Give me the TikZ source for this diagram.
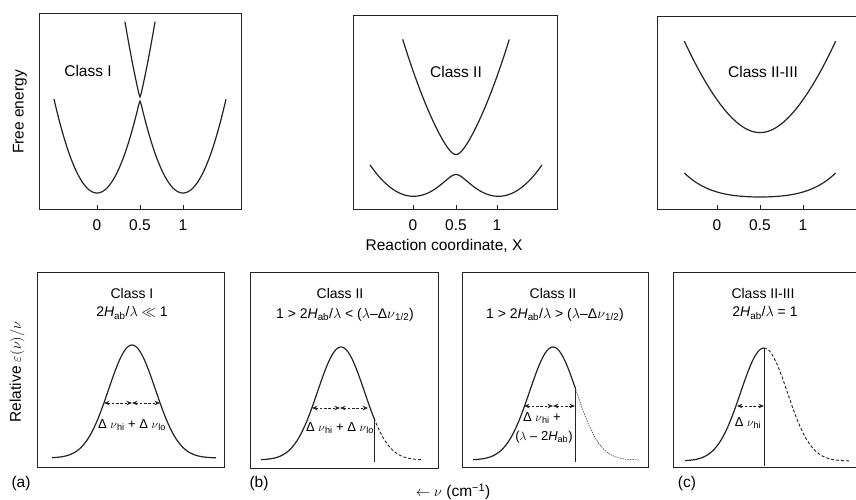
\documentclass[tikz,border=0pt]{standalone}
\usepackage{fontspec}
\setmainfont{Liberation Sans}
\usepackage{tikz}
\usetikzlibrary{arrows.meta}
\definecolor{ink}{RGB}{35,35,35}

\begin{document}
\begin{tikzpicture}[x=1pt, y=-1pt, font=\fontsize{15.5}{18}\selectfont,
    declare function={
      elo(\t,\h)=(\t*\t+(\t-1)*(\t-1))/2-sqrt(((2*\t-1)/2)^2+\h*\h);
      ehi(\t,\h)=(\t*\t+(\t-1)*(\t-1))/2+sqrt(((2*\t-1)/2)^2+\h*\h);
      flat(\u)=14.8*\u*\u+21*\u*\u*\u*\u;
      gs(\d)=exp(-\d*\d/1095);},
    frame/.style={draw=ink, line width=0.9pt},
    curve/.style={ink, line width=1.2pt},
    tail/.style={ink, line width=0.9pt, dash pattern=on 3pt off 2pt},
    fine/.style={ink, line width=0.5pt, dash pattern=on 1.5pt off 1pt},
    width/.style={ink, line width=0.7pt, dash pattern=on 2.5pt off 1.8pt,
      {Stealth[length=5.5pt,width=4.5pt,sep=0pt]}-{Stealth[length=5.5pt,width=4.5pt,sep=0pt]}},
    lbl/.style={font=\fontsize{14}{16}\selectfont, inner sep=0pt, align=center},
    small/.style={font=\fontsize{13}{15}\selectfont, inner sep=0pt, align=center}]
  \useasboundingbox (0,0) rectangle (856,500);

  % free energy surfaces
  \draw[frame] (39,13) rectangle (241,209);
  \draw[frame] (353,15) rectangle (557,209);
  \draw[frame] (657,16) rectangle (872,209);
  \foreach \x/\v/\n in {97/0/a0,140/0.5/a1,183/1/a2,413/0/b0,456/0.5/b1,497/1/b2,717/0/c0,760/0.5/c1,803/1/c2} {
    \draw[frame] (\x,209) -- ++(0,-4);
    \node (tick-\n) at (\x,225) {\v};
  }
  \node[rotate=90] (fe) at (20,112) {Free energy};
  \node (rc) at (444,246) {Reaction coordinate, X};
  \node (topI) at (88,71) {Class I};
  \node (topII) at (456,72) {Class II};
  \node (topIII) at (763,72) {Class II-III};

  \draw[curve] plot[domain=-0.5:1.5, samples=161] ({97+86*\x}, {193-376*elo(\x,0.0066)});
  \draw[curve] plot[domain=0.325:0.675, samples=29] ({97+86*\x}, {193-376*ehi(\x,0.0066)});
  \draw[curve] plot[domain=-0.5:1.5, samples=81] ({413+86*\x}, {195.5-124*elo(\x,0.0806)});
  \draw[curve] plot[domain=-0.12:1.12, samples=63] ({413+86*\x}, {195.5-124*ehi(\x,0.0806)});
  \draw[curve] plot[domain=-0.88:0.88, samples=61] ({760+86*\x}, {197-flat(\x)});
  \draw[curve] plot[domain=-0.38:1.38, samples=61] ({717+86*\x}, {182.3-70*ehi(\x,0.46)});

  % absorption bands
  \draw[frame] (37,272) rectangle (224,467);
  \draw[frame] (250,272) rectangle (438,468);
  \draw[frame] (462,272) rectangle (648,467);
  \draw[frame] (673,272) rectangle (872,467);
  \node[rotate=90] (eps) at (17,372) {Relative $\varepsilon(\nu)/\nu$};
  \node (nu) at (453,492) {$\leftarrow\nu$ (cm\textsuperscript{−1})};
  \node (pa) at (21,483) {(a)};
  \node (pb) at (259,483) {(b)};
  \node (pc) at (687,483) {(c)};

  % (a)
  \node[lbl] (clsA) at (132,293) {Class I};
  \node[lbl] (condA) at (132,313) {2\textit{H}\textsubscript{ab}/$\lambda$ $\ll$ 1};
  \draw[curve] plot[domain=-80:84, samples=83] ({132+\x}, {458-113*gs(\x)});
  \coordinate (a-l) at (104,403); \coordinate (a-m) at (132,403); \coordinate (a-r) at (160,403);
  \draw[width] (a-l) -- (a-m); \draw[width] (a-m) -- (a-r);
  \node[small] (wA) at (132,425) {Δ $\nu$\textsubscript{hi} + Δ $\nu$\textsubscript{lo}};

  % (b)
  \node[lbl] (clsB) at (340,293) {Class II};
  \node[lbl] (condB) at (345,315) {1 > 2\textit{H}\textsubscript{ab}/$\lambda$ < ($\lambda$–Δ$\nu$\textsubscript{1/2})};
  \draw[curve] plot[domain=-80:33, samples=58] ({341+\x}, {460-113*gs(\x)});
  \draw[tail] plot[domain=33:82, samples=26] ({341+\x}, {460-113*gs(\x)});
  \coordinate (b-top) at (374,{460-113*gs(33)}); \coordinate (b-bot) at (374,462);
  \draw[curve, line width=1pt] (b-top) -- (b-bot);
  \coordinate (b-l) at (312,408); \coordinate (b-m) at (340,408); \coordinate (b-r) at (368,408);
  \draw[width] (b-l) -- (b-m); \draw[width] (b-m) -- (b-r);
  \node[small] (wB) at (340,428) {Δ $\nu$\textsubscript{hi} + Δ $\nu$\textsubscript{lo}};

  % (b), second case
  \node[lbl] (clsB2) at (553,293) {Class II};
  \node[lbl] (condB2) at (555,315) {1 > 2\textit{H}\textsubscript{ab}/$\lambda$ > ($\lambda$–Δ$\nu$\textsubscript{1/2})};
  \draw[curve] plot[domain=-80:22, samples=52] ({553+\x}, {460-113*gs(\x)});
  \draw[fine] plot[domain=22:87, samples=34] ({553+\x}, {460-113*gs(\x)});
  \coordinate (c-top) at (575,{460-113*gs(22)}); \coordinate (c-bot) at (575,462);
  \draw[curve, line width=1pt] (c-top) -- (c-bot);
  \coordinate (c-l) at (524,406); \coordinate (c-m) at (553,406); \coordinate (c-r) at (575,406);
  \draw[width] (c-l) -- (c-m); \draw[width] (c-m) -- (c-r);
  \node[small] (wB2) at (542,418) {Δ $\nu$\textsubscript{hi} +};
  \node[small] (wB3) at (544,437) {($\lambda$ – 2\textit{H}\textsubscript{ab})};

  % (c)
  \node[lbl] (clsC) at (763,293) {Class II-III};
  \node[lbl] (condC) at (765,313) {2\textit{H}\textsubscript{ab}/$\lambda$ = 1};
  \draw[curve] plot[domain=-79:0, samples=41] ({764+\x}, {461-113*gs(\x)});
  \draw[tail] plot[domain=0:85, samples=44] ({764+\x}, {461-113*gs(\x)});
  \coordinate (d-top) at (764,348); \coordinate (d-bot) at (764,466);
  \draw[curve, line width=1pt] (d-top) -- (d-bot);
  \coordinate (d-l) at (737,406); \coordinate (d-r) at (764,406);
  \draw[width] (d-l) -- (d-r);
  \node[small] (wC) at (748,423) {Δ $\nu$\textsubscript{hi}};
\end{tikzpicture}
\end{document}
